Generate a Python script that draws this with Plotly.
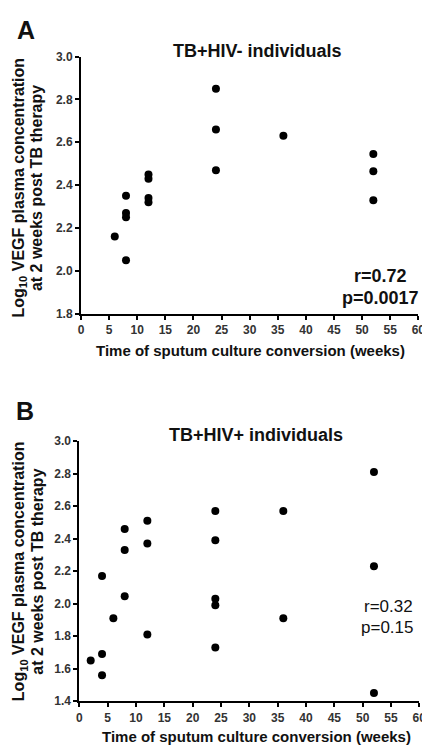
import plotly.graph_objects as go

# Panel A: TB+HIV- individuals
a_weeks = [6, 8, 8, 8, 8, 12, 12, 12, 12, 24, 24, 24, 36, 52, 52, 52]
a_vegf = [2.16, 2.05, 2.25, 2.27, 2.35, 2.32, 2.34, 2.43, 2.45, 2.47, 2.66, 2.85, 2.63, 2.33, 2.465, 2.545]

# Panel B: TB+HIV+ individuals
b_weeks = [2, 4, 4, 4, 6, 8, 8, 8, 12, 12, 12, 24, 24, 24, 24, 24, 36, 36, 52, 52, 52]
b_vegf = [1.65, 1.69, 1.56, 2.17, 1.91, 2.045, 2.33, 2.46, 1.81, 2.37, 2.51,
          1.73, 1.99, 2.03, 2.39, 2.57, 1.91, 2.57, 1.45, 2.23, 2.81]

# Tick values / labels
x_ticks = [0, 5, 10, 15, 20, 25, 30, 35, 40, 45, 50, 55, 60]
x_ticklabels = ["0", "5", "10", "15", "20", "25", "30", "35", "40", "45", "50", "55", "60"]
ya_ticks = [1.8, 2.0, 2.2, 2.4, 2.6, 2.8, 3.0]
ya_ticklabels = ["1.8", "2.0", "2.2", "2.4", "2.6", "2.8", "3.0"]
yb_ticks = [1.4, 1.6, 1.8, 2.0, 2.2, 2.4, 2.6, 2.8, 3.0]
yb_ticklabels = ["1.4", "1.6", "1.8", "2.0", "2.2", "2.4", "2.6", "2.8", "3.0"]

title_a = "TB+HIV- individuals"
title_b = "TB+HIV+ individuals"
stats_a = ["r=0.72", "p=0.0017"]
stats_b = ["r=0.32", "p=0.15"]
ytitle_lines = ["Log<sub>10</sub> VEGF plasma concentration", "at 2 weeks post TB therapy"]
xtitle = "Time of sputum culture conversion (weeks)"

W, H = 430, 747
FONT = "Liberation Sans, Arial, sans-serif"

fig = go.Figure()
marker = dict(color="black", size=8, symbol="circle")
fig.add_trace(go.Scatter(x=a_weeks, y=a_vegf, mode="markers", marker=marker,
                         xaxis="x", yaxis="y", showlegend=False))
fig.add_trace(go.Scatter(x=b_weeks, y=b_vegf, mode="markers", marker=marker,
                         xaxis="x2", yaxis="y2", showlegend=False))

tickfont = dict(family=FONT, size=12, color="#333")
axis_common = dict(showline=True, linecolor="black", linewidth=2, ticks="outside",
                   ticklen=4, tickwidth=2, tickcolor="black", showgrid=False,
                   zeroline=False, tickfont=tickfont, fixedrange=True, tickmode="array")

def bold(labels):
    return ["<b>%s</b>" % s for s in labels]

def px(x):
    return x / W

def py(y):
    return 1 - y / H

fig.update_layout(
    width=W, height=H,
    margin=dict(l=0, r=0, t=0, b=0),
    paper_bgcolor="white", plot_bgcolor="white",
    xaxis=dict(domain=[px(71.7), px(417)], range=[0, 60], tickvals=x_ticks,
               ticktext=bold(x_ticklabels), anchor="y", **axis_common),
    yaxis=dict(domain=[py(304.5), py(42.3)], range=[1.8, 3.0], tickvals=ya_ticks,
               ticktext=bold(ya_ticklabels), anchor="x", **axis_common),
    xaxis2=dict(domain=[px(70), px(418)], range=[0, 60], tickvals=x_ticks,
                ticktext=bold(x_ticklabels), anchor="y2", **axis_common),
    yaxis2=dict(domain=[py(699.3), py(434.3)], range=[1.4, 3.0], tickvals=yb_ticks,
                ticktext=bold(yb_ticklabels), anchor="x2", **axis_common),
)

ann = []

def add(text, x, y, size, bold=True, angle=0):
    ann.append(dict(text=text, x=px(x), y=py(y), xref="paper", yref="paper",
                    showarrow=False, xanchor="center", yanchor="middle", textangle=angle,
                    borderpad=0,
                    font=dict(family=FONT, size=size, color="#111",
                              weight="bold" if bold else "normal")))

# Panel letters
add("A", 15, 15, 25)
add("B", 14, 404, 25)
# Panel titles
add(title_a, 252, 37, 18)
add(title_b, 251, 428, 18)
# Stats
add(stats_a[0], 378, 266, 18)
add(stats_a[1], 378, 288, 18)
add(stats_b[0], 386, 603, 17, bold=False)
add(stats_b[1], 385, 624, 17, bold=False)
# Y titles
add(ytitle_lines[0], 9, 176, 16, angle=-90)
add(ytitle_lines[1], 26, 176, 16, angle=-90)
add(ytitle_lines[0], 9, 567, 16, angle=-90)
add(ytitle_lines[1], 27, 567, 16, angle=-90)
# X titles
add(xtitle, 245, 342, 15)
add(xtitle, 251, 735, 15)

fig.update_layout(annotations=ann)
fig.write_html("out.html")
